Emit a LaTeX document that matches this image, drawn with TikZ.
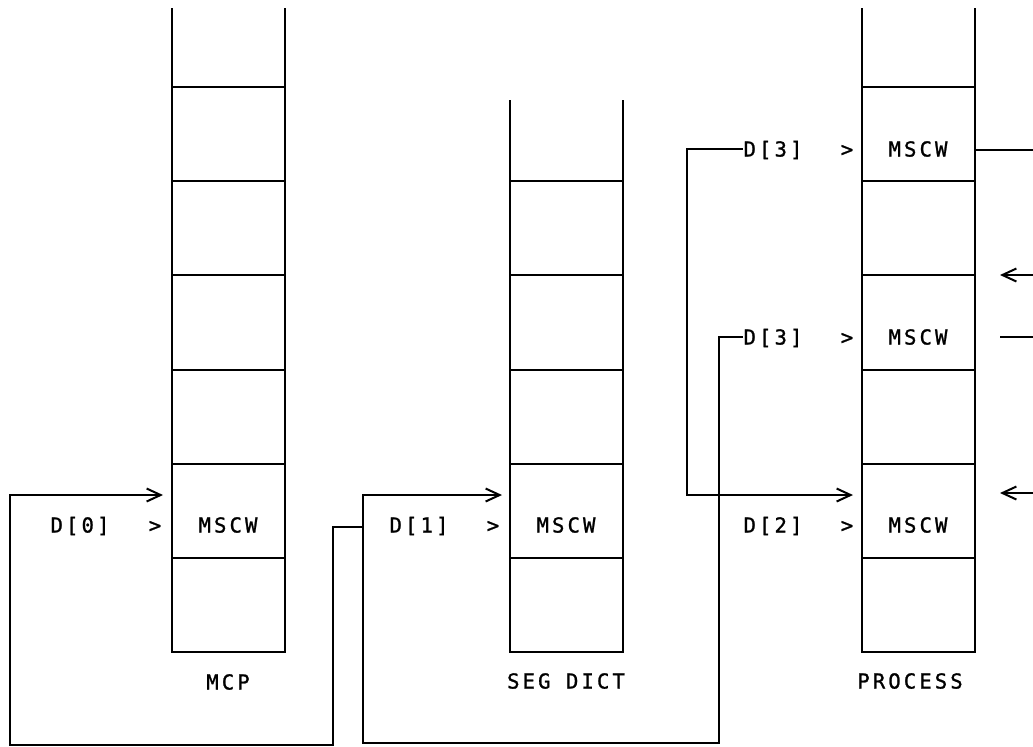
\documentclass[tikz,border=0pt]{standalone}
\usepackage{fontspec}
\newfontfamily\plotfont[LetterSpace=15,FakeBold=1.2]{DejaVu Sans Mono}
\usetikzlibrary{arrows.meta}
\tikzset{
  cell/.style={draw,minimum width=56.5pt,minimum height=47.08pt,inner sep=0pt,outer sep=0pt},
  lbl/.style={font=\plotfont\fontsize{10.3}{12}\selectfont,inner sep=0pt,text height=7.5pt,text depth=0pt},
  ptr/.style={-{Straight Barb[length=7pt,width=6.5pt]}},
}
\begin{document}
\begin{tikzpicture}[x=0.5pt,y=-0.5pt,line width=1pt]
\useasboundingbox (0,0) rectangle (1033,746);
% stacks, open at the top
\foreach \s/\x/\a/\t in {mcp/228.5/1/79,seg/566/2/81,pr/918.5/1/79} {
  \foreach \k in {\a,...,6} {\node[cell] (\s\k) at (\x,40+94.17*\k) {};}
  \draw (\s\a.north west) -- ++(0,-\t);
  \draw (\s\a.north east) -- ++(0,-\t);
}
% display register labels
\foreach \nm/\txt/\px/\py in {d0/D[0]/80/525,g0/>/155/525,m0/MSCW/228/525,
    d1/D[1]/419/525,g1/>/493/525,m1/MSCW/566/525,
    d2/D[2]/773/525,g2/>/847/525,m2/MSCW/918/525,
    d3b/D[3]/773/337,g3b/>/847/337,m3b/MSCW/918/337,
    d3a/D[3]/773/149,g3a/>/847/149,m3a/MSCW/918/149}
  \node[lbl] (\nm) at (\px,\py) {\txt};
\node[lbl] (mcpname) at (228,682) {MCP};
\node[lbl] (segname) at (566,681) {SEG DICT};
\node[lbl] (prname) at (910,681) {PROCESS};
% link points
\coordinate (in0) at (163,495);
\coordinate (in1) at (502,495);
\coordinate (in2) at (853,495);
\coordinate (j1) at (363,527);
\coordinate (bA) at (687,0);
\coordinate (bB) at (719,0);
\coordinate (bD) at (333,0);
\coordinate (fl1) at (363,743);
\coordinate (fl0) at (10,745);
% static links
\draw[ptr] (d3a.west) -- (d3a.west -| bA) |- (in2);
\draw[ptr] (d3b.west) -- (d3b.west -| bB) |- (fl1) |- (in1);
\draw[ptr] (j1) -- (j1 -| bD) |- (fl0) |- (in0);
% links off the right edge
\coordinate (o1) at (1033,150);
\coordinate (r1) at (1033,275);
\coordinate (r1t) at (1000,275);
\coordinate (r2) at (1000,337);
\coordinate (r2e) at (1033,337);
\coordinate (r3) at (1033,493);
\coordinate (r3t) at (1000,493);
\draw (pr1.east |- o1) -- (o1);
\draw[ptr] (r1) -- (r1t);
\draw (r2) -- (r2e);
\draw[ptr] (r3) -- (r3t);
\end{tikzpicture}
\end{document}
